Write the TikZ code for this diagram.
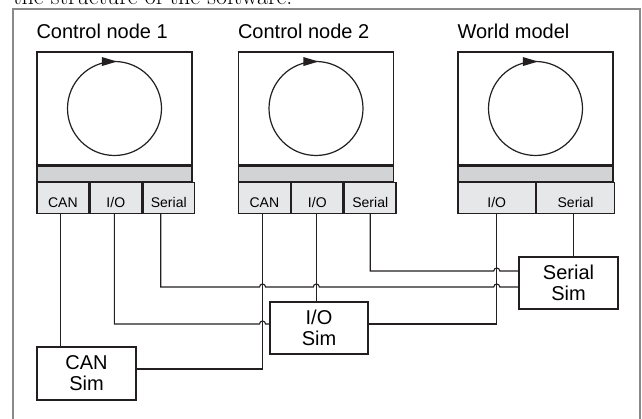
\documentclass[tikz,border=0pt]{standalone}
\usepackage{fontspec}
\newfontfamily\arialf{Liberation Sans}
\usetikzlibrary{arrows.meta,calc}
\definecolor{ink}{HTML}{231F20}
\definecolor{bandgray}{HTML}{D1D3D4}
\definecolor{portgray}{HTML}{E6E7E8}
\definecolor{framegray}{HTML}{8A8A8A}
\begin{document}
\begin{tikzpicture}[x=1pt,y=1pt,
  mainbox/.style={draw=ink, line width=1.3pt, fill=white, minimum width=155pt, minimum height=113pt, inner sep=0pt},
  bandbox/.style={draw=ink, line width=1.3pt, fill=bandgray, minimum width=155pt, minimum height=15pt, inner sep=0pt},
  portbox/.style={draw=ink, line width=1.3pt, fill=portgray, minimum height=31pt, inner sep=0pt, text height=19pt, text depth=0pt, anchor=north west, font=\arialf\fontsize{14}{16}\selectfont},
  simbox/.style={draw=ink, line width=1.3pt, fill=white, inner sep=0pt, align=center, font=\arialf\fontsize{20}{21}\selectfont},
  titlelbl/.style={anchor=base west, inner sep=0pt, font=\arialf\fontsize{20}{24}\selectfont},
  wire/.style={draw=ink, line width=1.1pt},
  loopline/.style={draw=ink, line width=1.2pt}
]
\useasboundingbox (0,0) rectangle (642,419);
\clip (0,0) rectangle (642,419);
% page text and frame
\node[anchor=base west, inner sep=0pt, font=\fontsize{24}{28}\selectfont] (pagetext) at (13,414) {the structure of the software.};
\draw[framegray, line width=1.5pt] (13,-5) -- (13,410) -- (640,410) -- (640,-5);

% boxes
\node[mainbox] (m1) at (114.5,310.5) {};
\node[mainbox] (m2) at (316,310.5) {};
\node[mainbox] (m3) at (535.5,310.5) {};
\foreach \i in {1,2,3} {
  \node[bandbox, anchor=north] (b\i) at (m\i.south) {};
  \draw[loopline] (m\i.center) circle[radius=47pt];
  \fill[ink] ([shift={(87:47pt)}]m\i.center) -- ++(-15pt,4.5pt) -- ++(0,-9pt) -- cycle;
}
\node[titlelbl] (t1) at ([yshift=13pt]m1.north west) {Control node 1};
\node[titlelbl] (t2) at ([yshift=13pt]m2.north west) {Control node 2};
\node[titlelbl] (t3) at ([yshift=13pt]m3.north west) {World model};

\node[portbox, minimum width=51.667pt] (c1can) at (b1.south west) {CAN};
\node[portbox, minimum width=51.667pt] (c1io) at (c1can.north east) {I/O};
\node[portbox, minimum width=51.667pt] (c1ser) at (c1io.north east) {Serial};
\node[portbox, minimum width=51.667pt] (c2can) at (b2.south west) {CAN};
\node[portbox, minimum width=51.667pt] (c2io) at (c2can.north east) {I/O};
\node[portbox, minimum width=51.667pt] (c2ser) at (c2io.north east) {Serial};
\node[portbox, minimum width=77.5pt] (wio) at (b3.south west) {I/O};
\node[portbox, minimum width=77.5pt] (wser) at (wio.north east) {Serial};

% simulators
\node[simbox, minimum width=99pt, minimum height=53pt] (cansim) at (86.5,45.5) {CAN\\Sim};
\node[simbox, minimum width=98pt, minimum height=52pt] (iosim) at (319,91) {I/O\\Sim};
\node[simbox, minimum width=99pt, minimum height=52pt] (sersim) at (568.5,136) {Serial\\Sim};

% wire end points
\coordinate (p1can) at ([xshift=-2.5pt]c1can.south);
\coordinate (p1io) at ([xshift=-1.5pt]c1io.south);
\coordinate (p1ser) at ([xshift=-8pt]c1ser.south);
\coordinate (p2can) at ([xshift=-1.8pt]c2can.south);
\coordinate (p2io) at ([xshift=-1pt]c2io.south);
\coordinate (p2ser) at (c2ser.south);
\coordinate (pwio) at (wio.south);
\coordinate (pwser) at ([xshift=-2pt]wser.south);
\coordinate (iosimW) at ([yshift=4pt]iosim.west);
\coordinate (iosimE) at ([yshift=4pt]iosim.east);
\coordinate (cansimE) at ([yshift=4.5pt]cansim.east);
\coordinate (serW1) at ([yshift=12pt]sersim.west);
\coordinate (serW2) at ([yshift=-4pt]sersim.west);

% wires
\draw[wire] (p1can) -- (p1can |- cansim.north);
\draw[wire] (p2can) |- (cansimE);
\draw[wire] (p1io) |- ([xshift=-3pt]p2can |- iosimW) arc[start angle=180, end angle=0, radius=3pt] -- (iosimW);
\draw[wire] (p2io) -- (p2io |- iosim.north);
\draw[wire] (pwio) |- (iosimE);
\draw[wire] (p1ser) |- ([xshift=-3pt]p2can |- serW2) arc[start angle=180, end angle=0, radius=3pt]
  -- ([xshift=-3pt]p2io |- serW2) arc[start angle=180, end angle=0, radius=3pt]
  -- ([xshift=-3pt]pwio |- serW2) arc[start angle=180, end angle=0, radius=3pt] -- (serW2);
\draw[wire] (p2ser) |- ([xshift=-3pt]pwio |- serW1) arc[start angle=180, end angle=0, radius=3pt] -- (serW1);
\draw[wire] (pwser) -- (pwser |- sersim.north);
\end{tikzpicture}
\end{document}
